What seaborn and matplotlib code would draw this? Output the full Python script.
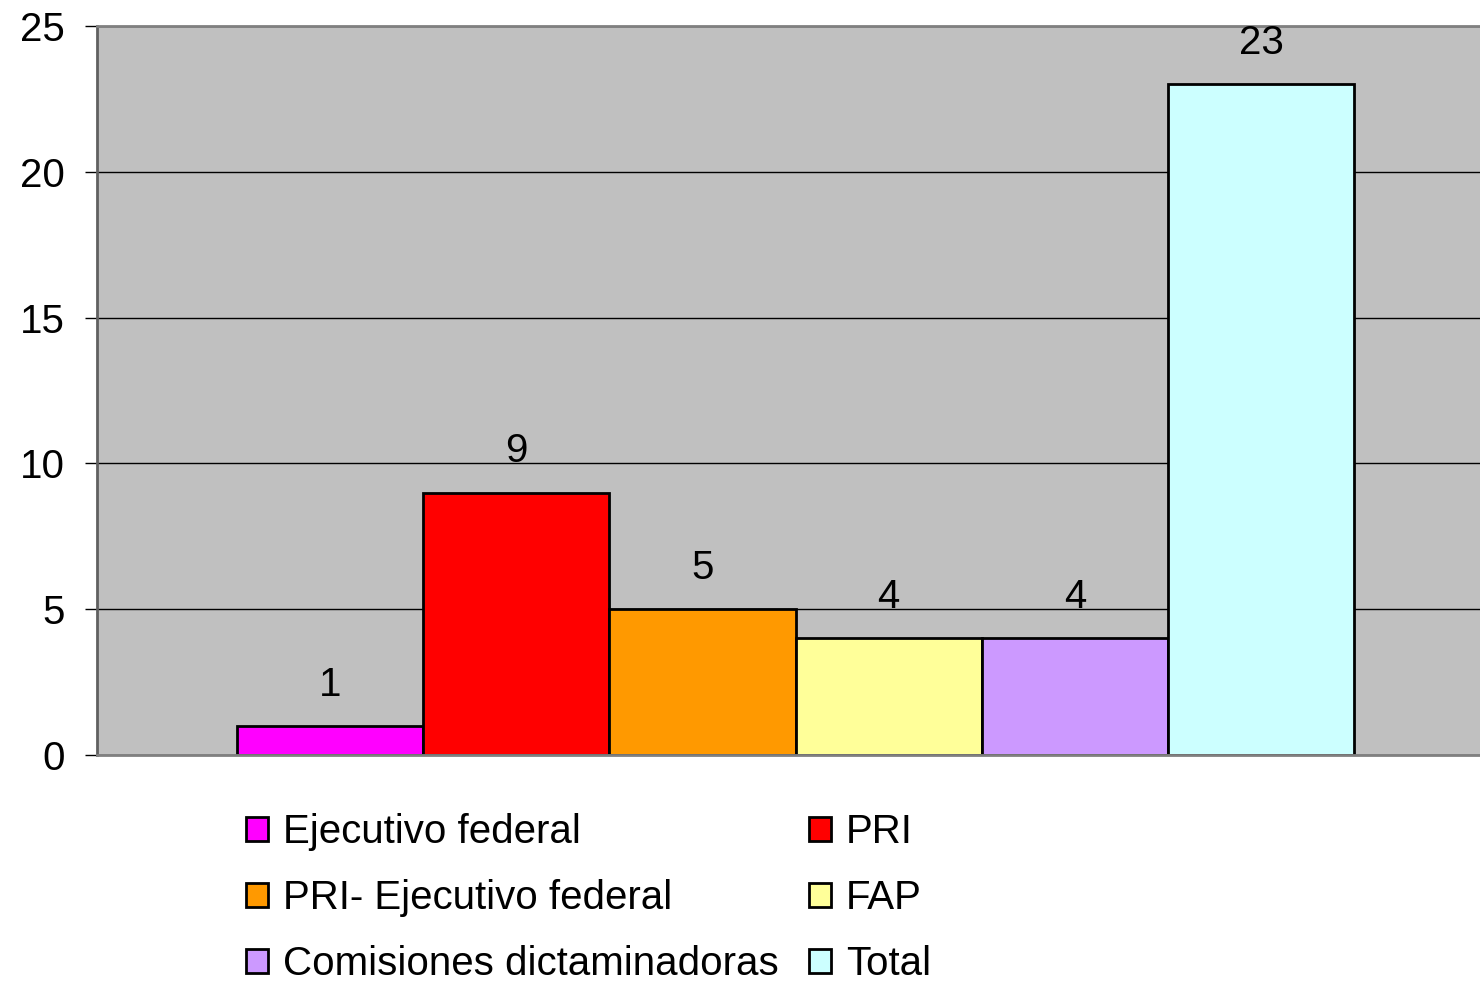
import matplotlib
matplotlib.use("Agg")
import matplotlib.pyplot as plt
import seaborn as sns
import pandas as pd
from matplotlib.patches import Patch

# data
series = ["Ejecutivo federal", "PRI", "PRI- Ejecutivo federal", "FAP",
          "Comisiones dictaminadoras", "Total"]
values = [1, 9, 5, 4, 4, 23]
colors = ["#FF00FF", "#FF0000", "#FF9900", "#FFFF99", "#CC99FF", "#CCFFFF"]
yticks = [0, 5, 10, 15, 20, 25]

df = pd.DataFrame({"grupo": [""] * len(series), "serie": series, "valor": values})

sns.set_style("white")
plt.rcParams["font.family"] = ["Liberation Sans", "DejaVu Sans"]
plt.rcParams["text.color"] = "black"
plt.rcParams["ytick.labelcolor"] = "black"
FS = 29

fig = plt.figure(figsize=(14.8, 9.83), dpi=100)
ax = fig.add_axes([97 / 1480, 1 - 755 / 983, 1397 / 1480, (755 - 26) / 983])
ax.set_facecolor("#C0C0C0")

sns.barplot(data=df, x="grupo", y="valor", hue="serie", hue_order=series,
            palette=colors, saturation=1, width=0.8, edgecolor="black",
            linewidth=2, legend=False, ax=ax)

for cont in ax.containers:
    ax.bar_label(cont, padding=16, fontsize=FS, color="black")

ax.set_xlim(-0.5, 0.5)
ax.set_ylim(0, 25)
ax.set_yticks(yticks)
ax.set_yticklabels([str(t) for t in yticks], fontsize=FS, color="black")
ax.set_xticks([])
ax.set_xlabel("")
ax.set_ylabel("")
ax.yaxis.grid(True, color="black", linewidth=1)
ax.set_axisbelow(True)
ax.tick_params(axis="y", left=True, length=9, width=1, color="black", pad=14)

for side in ["top", "left", "bottom", "right"]:
    ax.spines[side].set_visible(True)
    ax.spines[side].set_color("#808080")
    ax.spines[side].set_linewidth(2)
ax.spines["left"].set_color("#606060")

handles = [Patch(facecolor=c, edgecolor="black", linewidth=2) for c in colors]
order = [0, 2, 4, 1, 3, 5]
fig.legend([handles[i] for i in order], [series[i] for i in order],
           loc="upper left", bbox_to_anchor=(246 / 1480, 1 - 813 / 983),
           ncol=2, frameon=False, fontsize=FS, borderpad=0,
           handlelength=0.55, handleheight=0.55, handletextpad=0.37,
           columnspacing=0.75, labelspacing=0.7, borderaxespad=0)

fig.savefig("out.png", dpi=100)
